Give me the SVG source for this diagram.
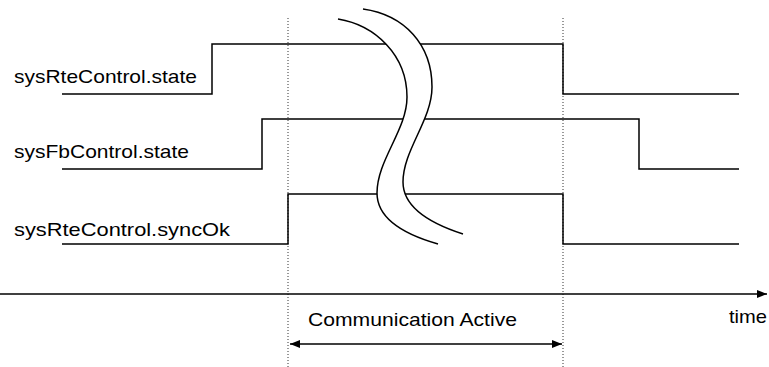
<svg xmlns="http://www.w3.org/2000/svg" width="769" height="367" viewBox="0 0 769 367">
<style>
.sig{fill:none;stroke:#000;stroke-width:1.5}
.dot{fill:none;stroke:#333;stroke-width:1;stroke-dasharray:1 2}
.lbl{font-family:"Liberation Sans",Arial,sans-serif;font-size:19px;fill:#000}
.ax{fill:none;stroke:#000;stroke-width:1.5}
</style>
<defs>
<marker id="ah" viewBox="0 0 10 10" refX="10" refY="5" markerWidth="10" markerHeight="10" markerUnits="userSpaceOnUse" orient="auto-start-reverse">
<path d="M0,1 L10,5 L0,9 Z" fill="#000"/>
</marker>
</defs>
<rect width="769" height="367" fill="#fff"/>
<g id="guides">
<line class="dot" x1="288" y1="18" x2="288" y2="367"/>
<line class="dot" x1="563" y1="18" x2="563" y2="367"/>
</g>
<g id="sig-rte-state">
<text class="lbl" x="14" y="83" textLength="183" lengthAdjust="spacingAndGlyphs">sysRteControl.state</text>
<polyline class="sig" points="62,94 212,94 212,44 563,44 563,94 739,94"/>
</g>
<g id="sig-fb-state">
<text class="lbl" x="14" y="158" textLength="175" lengthAdjust="spacingAndGlyphs">sysFbControl.state</text>
<polyline class="sig" points="62,169 262,169 262,119 639,119 639,169 739,169"/>
</g>
<g id="sig-rte-syncok">
<text class="lbl" x="14" y="236" textLength="216" lengthAdjust="spacingAndGlyphs">sysRteControl.syncOk</text>
<polyline class="sig" points="62,244 288,244 288,194 563,194 563,244 739,244"/>
</g>
<g id="break">
<path d="M338,19 C375,25 407,55 407,97 C407,130 377,160 377,193 C377,222 410,236 438,244 L463,234 C435,225 403,210 403,182 C403,150 432,120 432,87 C432,45 405,15 363,9 Z" fill="#fff" stroke="none"/>
<path class="sig" d="M338,19 C375,25 407,55 407,97 C407,130 377,160 377,193 C377,222 410,236 438,244"/>
<path class="sig" d="M363,9 C405,15 432,45 432,87 C432,120 403,150 403,182 C403,210 435,225 463,234"/>
</g>
<g id="connectors">
<line class="ax" x1="0" y1="294" x2="767" y2="294" marker-end="url(#ah)"/>
<line class="ax" x1="290" y1="344" x2="562" y2="344" marker-start="url(#ah)" marker-end="url(#ah)"/>
</g>
<g id="time-label">
<text class="lbl" x="729" y="323" textLength="38" lengthAdjust="spacingAndGlyphs">time</text>
</g>
<g id="comm-label">
<text class="lbl" x="308" y="326" textLength="209" lengthAdjust="spacingAndGlyphs">Communication Active</text>
</g>
</svg>
